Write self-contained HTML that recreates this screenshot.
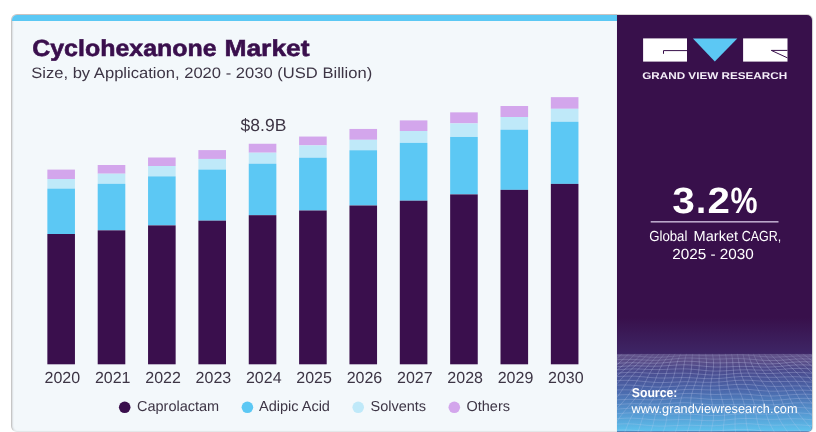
<!DOCTYPE html>
<html><head><meta charset="utf-8">
<style>
html,body{margin:0;padding:0;background:#fff;}
body{width:816px;height:432px;overflow:hidden;position:relative;font-family:"Liberation Sans",sans-serif;}
.card{position:absolute;left:11px;top:14px;width:606px;height:415.6px;background:#f3f8fb;border-radius:6px 0 0 6px;border-left:1px solid #c6c6c6;border-top:1px solid #cbc3c0;border-bottom:1px solid #e4e7e9;box-shadow:inset 1.5px 0 1.5px -0.5px rgba(0,0,0,0.10);overflow:hidden;}
.card .band{position:absolute;left:0;top:0;right:0;height:5.6px;background:#5bc8f4;}
.rp{position:absolute;left:617px;top:15px;width:195px;height:416.8px;background:linear-gradient(180deg,#38104b 0px,#38104b 302.5px,#3e2666 339px);border-radius:0 5px 5px 0;overflow:hidden;box-shadow:0 -1px 0 #d8d4d4, 0.5px 0 1px rgba(0,0,0,0.2);}
svg text{font-family:"Liberation Sans",sans-serif;text-rendering:geometricPrecision;}
</style></head><body>
<div class="card"><div class="band"></div></div>
<div class="rp"></div>
<svg style="position:absolute;left:0;top:0;will-change:transform" width="816" height="432" viewBox="0 0 816 432">
<defs>
<linearGradient id="bg" x1="0" y1="0" x2="0" y2="1">
<stop offset="0" stop-color="#615289"/>
<stop offset="0.1" stop-color="#5a4e88"/>
<stop offset="0.2" stop-color="#4b4a8c"/>
<stop offset="0.45" stop-color="#4a64a8"/>
<stop offset="0.75" stop-color="#5596d0"/>
<stop offset="1" stop-color="#5ec3ee"/>
</linearGradient>
<filter id="bl" x="-5%" y="-5%" width="110%" height="110%"><feGaussianBlur stdDeviation="0.45"/></filter>
<linearGradient id="fade" x1="0" y1="0" x2="0" y2="1"><stop offset="0" stop-color="#fff" stop-opacity="0.35"/><stop offset="0.12" stop-color="#fff" stop-opacity="1"/><stop offset="1" stop-color="#fff" stop-opacity="0.8"/></linearGradient>
<mask id="mk" maskUnits="userSpaceOnUse" x="617" y="353" width="196" height="80"><rect x="617" y="353" width="196" height="80" fill="url(#fade)"/></mask>
<clipPath id="rpc"><path d="M617,353.8 H812 V426.8 Q812,431.8 807,431.8 H617 Z"/></clipPath>
</defs>
<rect x="47.35" y="169.6" width="27.6" height="9.40" fill="#d3a6ec"/><rect x="47.35" y="179.0" width="27.6" height="9.60" fill="#bfe9f9"/><rect x="47.35" y="188.6" width="27.6" height="45.40" fill="#5cc8f4"/><rect x="47.35" y="234.0" width="27.6" height="130.30" fill="#3a0f4d"/><rect x="97.70" y="165.0" width="27.6" height="8.70" fill="#d3a6ec"/><rect x="97.70" y="173.7" width="27.6" height="10.10" fill="#bfe9f9"/><rect x="97.70" y="183.8" width="27.6" height="46.55" fill="#5cc8f4"/><rect x="97.70" y="230.35" width="27.6" height="133.95" fill="#3a0f4d"/><rect x="148.05" y="157.5" width="27.6" height="8.50" fill="#d3a6ec"/><rect x="148.05" y="166.0" width="27.6" height="10.35" fill="#bfe9f9"/><rect x="148.05" y="176.35" width="27.6" height="49.05" fill="#5cc8f4"/><rect x="148.05" y="225.4" width="27.6" height="138.90" fill="#3a0f4d"/><rect x="198.40" y="150.1" width="27.6" height="8.85" fill="#d3a6ec"/><rect x="198.40" y="158.95" width="27.6" height="10.60" fill="#bfe9f9"/><rect x="198.40" y="169.55" width="27.6" height="51.10" fill="#5cc8f4"/><rect x="198.40" y="220.65" width="27.6" height="143.65" fill="#3a0f4d"/><rect x="248.75" y="143.75" width="27.6" height="8.95" fill="#d3a6ec"/><rect x="248.75" y="152.7" width="27.6" height="11.00" fill="#bfe9f9"/><rect x="248.75" y="163.7" width="27.6" height="51.50" fill="#5cc8f4"/><rect x="248.75" y="215.2" width="27.6" height="149.10" fill="#3a0f4d"/><rect x="299.10" y="136.55" width="27.6" height="8.85" fill="#d3a6ec"/><rect x="299.10" y="145.4" width="27.6" height="12.30" fill="#bfe9f9"/><rect x="299.10" y="157.7" width="27.6" height="52.80" fill="#5cc8f4"/><rect x="299.10" y="210.5" width="27.6" height="153.80" fill="#3a0f4d"/><rect x="349.45" y="128.95" width="27.6" height="10.85" fill="#d3a6ec"/><rect x="349.45" y="139.8" width="27.6" height="10.45" fill="#bfe9f9"/><rect x="349.45" y="150.25" width="27.6" height="55.25" fill="#5cc8f4"/><rect x="349.45" y="205.5" width="27.6" height="158.80" fill="#3a0f4d"/><rect x="399.80" y="120.4" width="27.6" height="10.60" fill="#d3a6ec"/><rect x="399.80" y="131.0" width="27.6" height="11.85" fill="#bfe9f9"/><rect x="399.80" y="142.85" width="27.6" height="57.85" fill="#5cc8f4"/><rect x="399.80" y="200.7" width="27.6" height="163.60" fill="#3a0f4d"/><rect x="450.15" y="112.35" width="27.6" height="11.05" fill="#d3a6ec"/><rect x="450.15" y="123.4" width="27.6" height="13.55" fill="#bfe9f9"/><rect x="450.15" y="136.95" width="27.6" height="57.45" fill="#5cc8f4"/><rect x="450.15" y="194.4" width="27.6" height="169.90" fill="#3a0f4d"/><rect x="500.50" y="106.0" width="27.6" height="11.00" fill="#d3a6ec"/><rect x="500.50" y="117.0" width="27.6" height="12.70" fill="#bfe9f9"/><rect x="500.50" y="129.7" width="27.6" height="60.15" fill="#5cc8f4"/><rect x="500.50" y="189.85" width="27.6" height="174.45" fill="#3a0f4d"/><rect x="550.85" y="97.15" width="27.6" height="11.65" fill="#d3a6ec"/><rect x="550.85" y="108.8" width="27.6" height="12.95" fill="#bfe9f9"/><rect x="550.85" y="121.75" width="27.6" height="62.15" fill="#5cc8f4"/><rect x="550.85" y="183.9" width="27.6" height="180.40" fill="#3a0f4d"/>
<g font-size="16" fill="#3d3545" text-anchor="middle"><text x="62.35" y="382.6">2020</text><text x="112.70" y="382.6">2021</text><text x="163.05" y="382.6">2022</text><text x="213.40" y="382.6">2023</text><text x="263.75" y="382.6">2024</text><text x="314.10" y="382.6">2025</text><text x="364.45" y="382.6">2026</text><text x="414.80" y="382.6">2027</text><text x="465.15" y="382.6">2028</text><text x="515.50" y="382.6">2029</text><text x="565.85" y="382.6">2030</text></g>
<text x="240.6" y="131" font-size="17.5" fill="#3d3545">$8.9B</text>
<g font-size="14.5" fill="#3d3545">
<circle cx="124.7" cy="407.3" r="5.8" fill="#3a0f4d"/><text x="137" y="411">Caprolactam</text>
<circle cx="247.4" cy="407.3" r="5.8" fill="#5cc8f4"/><text x="259" y="411">Adipic Acid</text>
<circle cx="358.2" cy="407.3" r="5.8" fill="#bfe9f9"/><text x="370.5" y="411">Solvents</text>
<circle cx="454.3" cy="407.3" r="5.8" fill="#d3a6ec"/><text x="466.5" y="411">Others</text>
</g>
<g font-size="23.2" font-weight="bold" fill="#3a0f4d" stroke="#3a0f4d" stroke-width="0.6"><text x="32.2" y="56.3" textLength="184.5" lengthAdjust="spacingAndGlyphs">Cyclohexanone</text><text x="224.4" y="56.3" textLength="85.2" lengthAdjust="spacingAndGlyphs">Market</text></g>
<text x="31.2" y="77.7" font-size="15.2" fill="#3d3545" textLength="341" lengthAdjust="spacingAndGlyphs">Size, by Application, 2020 - 2030 (USD Billion)</text>
<!-- logo -->
<rect x="643.1" y="38.4" width="43.9" height="23.2" fill="#fff"/>
<path d="M663.5,53.8 V50.6 H687" fill="none" stroke="#38104b" stroke-width="1"/>
<path d="M692.9,38.4 H737.3 L714.8,61.5 Z" fill="#5cc8f4"/>
<rect x="743.1" y="38.4" width="44.4" height="23.2" fill="#fff"/>
<path d="M787.5,50.4 H771.3 L787.5,57.9" fill="none" stroke="#38104b" stroke-width="1"/>
<text x="642.2" y="79" font-size="9.8" font-weight="bold" fill="#f4eef8" textLength="145" lengthAdjust="spacingAndGlyphs">GRAND VIEW RESEARCH</text>
<!-- CAGR -->
<g font-size="36.5" font-weight="bold" fill="#fff">
<text x="672.3" y="212.8" textLength="22.6" lengthAdjust="spacingAndGlyphs">3</text>
<text x="695.9" y="212.8">.</text>
<text x="707.4" y="212.8" textLength="22.4" lengthAdjust="spacingAndGlyphs">2</text>
<text x="730.4" y="212.8" textLength="27" lengthAdjust="spacingAndGlyphs">%</text>
</g>
<rect x="650.7" y="221" width="127.8" height="1.6" fill="#b9a6c9"/>
<g font-size="14.6" fill="#fff"><text x="649.2" y="241.2" textLength="38.2" lengthAdjust="spacingAndGlyphs">Global</text><text x="693.6" y="241.2" textLength="44.5" lengthAdjust="spacingAndGlyphs">Market</text><text x="741.8" y="241.2" textLength="39.5" lengthAdjust="spacingAndGlyphs">CAGR,</text></g>
<text x="672.3" y="259.2" font-size="14.6" fill="#fff" textLength="81.5" lengthAdjust="spacingAndGlyphs">2025 - 2030</text>
<!-- bottom -->
<g clip-path="url(#rpc)">
<rect x="617" y="353.8" width="196" height="78" fill="url(#bg)"/>
<g fill="none" stroke="#c8d0f0" stroke-opacity="0.28" stroke-width="1" filter="url(#bl)" mask="url(#mk)"><polyline points="615,355.8 620,355.7 625,355.7 630,355.7 635,356.0 640,356.4 645,356.8 650,357.1 655,357.3 660,357.2 665,357.0 670,356.5 675,356.1 680,355.6 685,355.3 690,355.2 695,355.3 700,355.4 705,355.6 710,355.7 715,355.7 720,355.6 725,355.3 730,355.1 735,354.9 740,354.8 745,355.0 750,355.3 755,355.8 760,356.3 765,356.7 770,357.0 775,357.1 780,356.9 785,356.7 790,356.4 795,356.1 800,356.0 805,356.0 810,356.2 815,356.4"/><polyline points="615,359.7 620,359.5 625,359.4 630,359.4 635,359.5 640,359.8 645,360.0 650,360.2 655,360.3 660,360.1 665,359.8 670,359.3 675,358.8 680,358.4 685,358.1 690,358.0 695,358.2 700,358.4 705,358.7 710,359.0 715,359.1 720,359.0 725,358.9 730,358.7 735,358.6 740,358.6 745,358.8 750,359.2 755,359.6 760,360.1 765,360.4 770,360.6 775,360.5 780,360.3 785,359.9 790,359.5 795,359.1 800,358.9 805,358.9 810,359.0 815,359.1"/><polyline points="615,363.4 620,363.1 625,362.9 630,362.7 635,362.8 640,362.9 645,363.1 650,363.2 655,363.2 660,363.0 665,362.7 670,362.2 675,361.8 680,361.4 685,361.2 690,361.3 695,361.5 700,361.9 705,362.3 710,362.7 715,362.9 720,362.9 725,362.8 730,362.7 735,362.6 740,362.5 745,362.7 750,362.9 755,363.3 760,363.6 765,363.9 770,363.9 775,363.7 780,363.4 785,362.9 790,362.4 795,362.0 800,361.8 805,361.7 810,361.9 815,362.1"/><polyline points="615,366.9 620,366.5 625,366.1 630,365.9 635,365.8 640,365.9 645,366.1 650,366.2 655,366.2 660,366.1 665,365.8 670,365.5 675,365.1 680,364.9 685,364.8 690,365.0 695,365.3 700,365.8 705,366.3 710,366.7 715,367.0 720,367.0 725,366.9 730,366.7 735,366.5 740,366.4 745,366.4 750,366.5 755,366.7 760,367.0 765,367.1 770,367.0 775,366.8 780,366.4 785,365.9 790,365.4 795,365.0 800,364.9 805,364.9 810,365.1 815,365.5"/><polyline points="615,370.1 620,369.7 625,369.2 630,369.0 635,368.9 640,369.1 645,369.3 650,369.5 655,369.6 660,369.6 665,369.4 670,369.2 675,369.0 680,368.9 685,368.9 690,369.1 695,369.5 700,370.0 705,370.5 710,370.9 715,371.1 720,371.0 725,370.8 730,370.5 735,370.1 740,369.9 745,369.8 750,369.8 755,370.0 760,370.1 765,370.2 770,370.1 775,369.9 780,369.5 785,369.1 790,368.7 795,368.5 800,368.4 805,368.6 810,368.9 815,369.4"/><polyline points="615,373.4 620,372.9 625,372.5 630,372.3 635,372.4 640,372.6 645,372.9 650,373.2 655,373.5 660,373.6 665,373.5 670,373.4 675,373.2 680,373.2 685,373.2 690,373.4 695,373.8 700,374.2 705,374.6 710,374.9 715,375.0 720,374.8 725,374.5 730,374.0 735,373.6 740,373.3 745,373.1 750,373.1 755,373.2 760,373.4 765,373.5 770,373.5 775,373.3 780,373.1 785,372.8 790,372.5 795,372.4 800,372.4 805,372.7 810,373.1 815,373.7"/><polyline points="615,376.8 620,376.4 625,376.2 630,376.1 635,376.2 640,376.6 645,377.0 650,377.5 655,377.8 660,378.0 665,378.0 670,377.9 675,377.7 680,377.6 685,377.6 690,377.7 695,378.0 700,378.3 705,378.6 710,378.7 715,378.6 720,378.4 725,378.0 730,377.4 735,377.0 740,376.6 745,376.5 750,376.5 755,376.7 760,377.0 765,377.2 770,377.3 775,377.3 780,377.1 785,376.9 790,376.8 795,376.7 800,376.9 805,377.2 810,377.6 815,378.1"/><polyline points="615,380.8 620,380.5 625,380.3 630,380.4 635,380.6 640,381.1 645,381.6 650,382.0 655,382.4 660,382.6 665,382.5 670,382.3 675,382.1 680,381.9 685,381.7 690,381.8 695,381.9 700,382.1 705,382.3 710,382.3 715,382.2 720,381.9 725,381.5 730,381.0 735,380.5 740,380.3 745,380.2 750,380.3 755,380.7 760,381.0 765,381.4 770,381.6 775,381.7 780,381.6 785,381.5 790,381.4 795,381.3 800,381.4 805,381.7 810,382.1 815,382.4"/><polyline points="615,385.2 620,385.0 625,385.0 630,385.1 635,385.4 640,385.8 645,386.3 650,386.7 655,387.0 660,387.1 665,386.9 670,386.6 675,386.3 680,385.9 685,385.7 690,385.6 695,385.6 700,385.8 705,385.9 710,386.0 715,385.9 720,385.6 725,385.2 730,384.9 735,384.5 740,384.4 745,384.4 750,384.7 755,385.1 760,385.6 765,386.0 770,386.3 775,386.4 780,386.4 785,386.2 790,386.0 795,385.9 800,385.9 805,386.1 810,386.3 815,386.6"/><polyline points="615,390.0 620,389.9 625,389.8 630,389.9 635,390.2 640,390.6 645,391.0 650,391.3 655,391.4 660,391.4 665,391.1 670,390.7 675,390.2 680,389.8 685,389.5 690,389.4 695,389.4 700,389.6 705,389.8 710,389.9 715,389.9 720,389.8 725,389.5 730,389.2 735,389.0 740,389.0 745,389.2 750,389.5 755,390.0 760,390.5 765,390.9 770,391.2 775,391.2 780,391.1 785,390.9 790,390.6 795,390.3 800,390.2 805,390.2 810,390.4 815,390.5"/><polyline points="615,395.1 620,394.9 625,394.7 630,394.7 635,394.9 640,395.1 645,395.4 650,395.6 655,395.7 660,395.5 665,395.2 670,394.7 675,394.2 680,393.8 685,393.5 690,393.4 695,393.5 700,393.8 705,394.1 710,394.3 715,394.5 720,394.4 725,394.3 730,394.1 735,394.0 740,394.0 745,394.2 750,394.5 755,395.0 760,395.4 765,395.8 770,396.0 775,395.9 780,395.6 785,395.3 790,394.8 795,394.5 800,394.3 805,394.2 810,394.3 815,394.5"/><polyline points="615,400.0 620,399.7 625,399.5 630,399.3 635,399.4 640,399.5 645,399.7 650,399.8 655,399.8 660,399.6 665,399.3 670,398.8 675,398.4 680,398.0 685,397.8 690,397.9 695,398.1 700,398.5 705,398.9 710,399.3 715,399.5 720,399.6 725,399.5 730,399.3 735,399.2 740,399.2 745,399.3 750,399.6 755,399.9 760,400.2 765,400.5 770,400.5 775,400.3 780,400.0 785,399.5 790,399.0 795,398.6 800,398.4 805,398.3 810,398.5 815,398.7"/><polyline points="615,404.8 620,404.3 625,404.0 630,403.8 635,403.7 640,403.8 645,403.9 650,404.1 655,404.1 660,404.0 665,403.7 670,403.4 675,403.0 680,402.8 685,402.7 690,402.9 695,403.3 700,403.7 705,404.2 710,404.6 715,404.9 720,404.9 725,404.8 730,404.6 735,404.4 740,404.2 745,404.3 750,404.4 755,404.6 760,404.8 765,405.0 770,404.9 775,404.7 780,404.3 785,403.8 790,403.3 795,402.9 800,402.8 805,402.8 810,403.0 815,403.4"/><polyline points="615,409.4 620,408.9 625,408.5 630,408.2 635,408.2 640,408.3 645,408.5 650,408.7 655,408.8 660,408.8 665,408.7 670,408.4 675,408.2 680,408.1 685,408.1 690,408.4 695,408.8 700,409.3 705,409.7 710,410.1 715,410.3 720,410.2 725,410.0 730,409.7 735,409.4 740,409.1 745,409.0 750,409.0 755,409.2 760,409.3 765,409.4 770,409.3 775,409.1 780,408.7 785,408.3 790,407.9 795,407.7 800,407.6 805,407.8 810,408.2 815,408.6"/><polyline points="615,414.0 620,413.5 625,413.1 630,412.9 635,412.9 640,413.2 645,413.5 650,413.8 655,414.1 660,414.2 665,414.1 670,414.0 675,413.9 680,413.8 685,413.8 690,414.1 695,414.4 700,414.8 705,415.2 710,415.5 715,415.6 720,415.4 725,415.1 730,414.6 735,414.2 740,413.8 745,413.7 750,413.7 755,413.8 760,414.0 765,414.1 770,414.1 775,413.9 780,413.7 785,413.4 790,413.1 795,413.0 800,413.0 805,413.3 810,413.8 815,414.3"/><polyline points="615,418.9 620,418.5 625,418.2 630,418.1 635,418.3 640,418.6 645,419.0 650,419.5 655,419.8 660,420.0 665,420.0 670,419.9 675,419.7 680,419.6 685,419.6 690,419.7 695,420.0 700,420.3 705,420.6 710,420.7 715,420.7 720,420.4 725,420.0 730,419.5 735,419.0 740,418.6 745,418.5 750,418.5 755,418.7 760,419.0 765,419.2 770,419.3 775,419.3 780,419.2 785,419.0 790,418.8 795,418.8 800,418.9 805,419.2 810,419.6 815,420.1"/><polyline points="615,424.2 620,424.0 625,423.8 630,423.9 635,424.1 640,424.6 645,425.1 650,425.5 655,425.9 660,426.1 665,426.0 670,425.8 675,425.6 680,425.4 685,425.2 690,425.2 695,425.4 700,425.6 705,425.7 710,425.8 715,425.7 720,425.4 725,424.9 730,424.4 735,424.0 740,423.7 745,423.7 750,423.8 755,424.1 760,424.5 765,424.9 770,425.1 775,425.2 780,425.1 785,425.0 790,424.9 795,424.8 800,424.9 805,425.2 810,425.5 815,425.9"/><polyline points="615,430.2 620,430.0 625,430.0 630,430.1 635,430.4 640,430.8 645,431.3 650,431.7 655,432.0 660,432.1 665,432.0 670,431.6 675,431.3 680,430.9 685,430.7 690,430.6 695,430.6 700,430.8 705,430.9 710,431.0 715,430.9 720,430.6 725,430.2 730,429.9 735,429.5 740,429.4 745,429.4 750,429.7 755,430.1 760,430.6 765,431.1 770,431.3 775,431.5 780,431.4 785,431.2 790,431.1 795,430.9 800,430.9 805,431.1 810,431.3 815,431.6"/><polyline points="536.0,352.0 526.5,356.0 517.1,360.0 507.8,364.0 498.2,368.0 488.2,372.0 477.9,376.0 467.2,380.0 456.3,384.0 445.4,388.0 434.7,392.0 424.2,396.0 414.2,400.0 404.5,404.0 395.1,408.0 385.8,412.0 376.3,416.0 366.6,420.0 356.5,424.0 346.0,428.0 335.2,432.0"/><polyline points="542.4,352.0 533.3,356.0 524.3,360.0 515.1,364.0 505.5,368.0 495.6,372.0 485.2,376.0 474.7,380.0 464.1,384.0 453.7,388.0 443.6,392.0 433.9,396.0 424.5,400.0 415.4,404.0 406.4,408.0 397.3,412.0 387.9,416.0 378.2,420.0 368.1,424.0 357.6,428.0 347.1,432.0"/><polyline points="548.9,352.0 540.2,356.0 531.3,360.0 522.1,364.0 512.6,368.0 502.6,372.0 492.4,376.0 482.2,380.0 472.1,384.0 462.3,388.0 452.8,392.0 443.8,396.0 435.0,400.0 426.3,404.0 417.6,408.0 408.6,412.0 399.2,416.0 389.5,420.0 379.4,424.0 369.2,428.0 359.0,432.0"/><polyline points="555.4,352.0 546.9,356.0 538.1,360.0 528.9,364.0 519.3,368.0 509.5,372.0 499.6,376.0 489.8,380.0 480.3,384.0 471.1,388.0 462.4,392.0 453.9,396.0 445.6,400.0 437.2,404.0 428.6,408.0 419.6,412.0 410.2,416.0 400.5,420.0 390.6,424.0 380.7,428.0 371.0,432.0"/><polyline points="561.8,352.0 553.4,356.0 544.5,360.0 535.3,364.0 525.8,368.0 516.3,372.0 506.8,376.0 497.6,380.0 488.7,384.0 480.3,388.0 472.1,392.0 464.1,396.0 456.1,400.0 447.9,404.0 439.2,408.0 430.3,412.0 420.9,416.0 411.4,420.0 401.8,424.0 392.4,428.0 383.4,432.0"/><polyline points="567.9,352.0 559.5,356.0 550.7,360.0 541.5,364.0 532.3,368.0 523.2,372.0 514.2,376.0 505.7,380.0 497.6,384.0 489.7,388.0 482.0,392.0 474.4,396.0 466.5,400.0 458.2,404.0 449.6,408.0 440.7,412.0 431.5,416.0 422.2,420.0 413.2,424.0 404.4,428.0 396.0,432.0"/><polyline points="573.8,352.0 565.3,356.0 556.6,360.0 547.7,364.0 538.8,368.0 530.2,372.0 522.0,376.0 514.1,380.0 506.6,384.0 499.3,388.0 491.9,392.0 484.4,396.0 476.6,400.0 468.3,404.0 459.7,408.0 450.9,412.0 442.0,416.0 433.2,420.0 424.8,424.0 416.7,428.0 409.0,432.0"/><polyline points="579.3,352.0 570.9,356.0 562.4,360.0 553.8,364.0 545.5,368.0 537.6,372.0 530.0,376.0 522.8,380.0 515.8,384.0 508.8,388.0 501.7,392.0 494.2,396.0 486.3,400.0 478.1,404.0 469.6,408.0 461.1,412.0 452.6,416.0 444.5,420.0 436.7,424.0 429.3,428.0 422.2,432.0"/><polyline points="584.6,352.0 576.4,356.0 568.2,360.0 560.2,364.0 552.5,368.0 545.3,372.0 538.4,376.0 531.7,380.0 525.1,384.0 518.3,388.0 511.1,392.0 503.7,396.0 495.8,400.0 487.7,404.0 479.4,408.0 471.3,412.0 463.5,416.0 456.0,420.0 448.9,424.0 442.1,428.0 435.5,432.0"/><polyline points="589.7,352.0 581.8,356.0 574.2,360.0 566.8,364.0 559.9,368.0 553.3,372.0 546.9,376.0 540.6,380.0 534.2,384.0 527.4,388.0 520.3,392.0 512.8,396.0 505.0,400.0 497.2,404.0 489.4,408.0 481.8,412.0 474.6,416.0 467.9,420.0 461.4,424.0 455.1,428.0 448.7,432.0"/><polyline points="594.8,352.0 587.5,356.0 580.4,360.0 573.8,364.0 567.5,368.0 561.4,372.0 555.5,376.0 549.4,380.0 543.0,384.0 536.3,388.0 529.2,392.0 521.8,396.0 514.2,400.0 506.7,404.0 499.5,408.0 492.6,412.0 486.1,416.0 480.0,420.0 474.0,424.0 468.0,428.0 461.8,432.0"/><polyline points="600.1,352.0 593.3,356.0 587.0,360.0 581.0,364.0 575.3,368.0 569.7,372.0 563.9,376.0 557.9,380.0 551.6,384.0 544.8,388.0 537.8,392.0 530.6,396.0 523.4,400.0 516.5,404.0 509.9,408.0 503.7,412.0 497.9,416.0 492.2,420.0 486.6,424.0 480.8,428.0 474.6,432.0"/><polyline points="605.6,352.0 599.5,356.0 593.9,360.0 588.5,364.0 583.2,368.0 577.8,372.0 572.2,376.0 566.2,380.0 559.8,384.0 553.1,388.0 546.3,392.0 539.4,396.0 532.8,400.0 526.5,404.0 520.7,408.0 515.1,412.0 509.8,416.0 504.5,420.0 499.0,424.0 493.3,428.0 487.1,432.0"/><polyline points="611.4,352.0 606.0,356.0 601.0,360.0 596.0,364.0 591.0,368.0 585.7,372.0 580.1,376.0 574.1,380.0 567.8,384.0 561.3,388.0 554.8,392.0 548.5,396.0 542.5,400.0 536.9,404.0 531.7,408.0 526.7,412.0 521.7,416.0 516.6,420.0 511.2,424.0 505.4,428.0 499.3,432.0"/><polyline points="617.6,352.0 612.8,356.0 608.2,360.0 603.5,364.0 598.6,368.0 593.4,372.0 587.8,376.0 581.8,380.0 575.6,384.0 569.5,388.0 563.5,392.0 557.8,396.0 552.5,400.0 547.6,404.0 542.9,408.0 538.3,412.0 533.5,416.0 528.5,420.0 523.1,424.0 517.3,428.0 511.3,432.0"/><polyline points="623.9,352.0 619.6,356.0 615.3,360.0 610.8,364.0 606.0,368.0 600.7,372.0 595.1,376.0 589.3,380.0 583.5,384.0 577.8,388.0 572.4,392.0 567.4,396.0 562.8,400.0 558.4,404.0 554.1,408.0 549.8,412.0 545.1,416.0 540.1,420.0 534.7,424.0 529.0,428.0 523.1,432.0"/><polyline points="630.5,352.0 626.5,356.0 622.3,360.0 617.9,364.0 613.0,368.0 607.8,372.0 602.3,376.0 596.8,380.0 591.4,384.0 586.3,388.0 581.6,392.0 577.3,396.0 573.3,400.0 569.3,404.0 565.3,408.0 561.0,412.0 556.4,416.0 551.4,420.0 546.0,424.0 540.5,428.0 535.0,432.0"/><polyline points="637.0,352.0 633.2,356.0 629.1,360.0 624.6,364.0 619.7,368.0 614.6,372.0 609.5,376.0 604.4,380.0 599.6,384.0 595.2,388.0 591.2,392.0 587.5,396.0 583.9,400.0 580.2,404.0 576.3,408.0 572.0,412.0 567.4,416.0 562.4,420.0 557.2,424.0 552.1,428.0 547.1,432.0"/><polyline points="643.4,352.0 639.6,356.0 635.5,360.0 631.0,364.0 626.3,368.0 621.4,372.0 616.7,376.0 612.2,380.0 608.1,384.0 604.4,388.0 601.0,392.0 597.7,396.0 594.4,400.0 590.9,404.0 587.0,408.0 582.7,412.0 578.1,416.0 573.3,420.0 568.4,424.0 563.8,428.0 559.5,432.0"/><polyline points="649.5,352.0 645.8,356.0 641.6,360.0 637.2,364.0 632.7,368.0 628.3,372.0 624.1,376.0 620.3,380.0 616.9,384.0 613.8,388.0 610.9,392.0 607.9,396.0 604.8,400.0 601.2,404.0 597.3,408.0 593.1,412.0 588.6,416.0 584.1,420.0 579.8,424.0 575.8,428.0 572.1,432.0"/><polyline points="655.3,352.0 651.6,356.0 647.5,360.0 643.4,364.0 639.3,368.0 635.4,372.0 631.9,376.0 628.8,380.0 626.0,384.0 623.4,388.0 620.8,392.0 618.0,396.0 614.8,400.0 611.3,404.0 607.4,408.0 603.3,412.0 599.1,416.0 595.1,420.0 591.4,424.0 588.1,428.0 585.1,432.0"/><polyline points="660.8,352.0 657.1,356.0 653.3,360.0 649.5,364.0 646.0,368.0 642.8,372.0 640.0,376.0 637.5,380.0 635.2,384.0 632.9,388.0 630.5,392.0 627.7,396.0 624.6,400.0 621.1,404.0 617.3,408.0 613.5,412.0 609.8,416.0 606.4,420.0 603.3,424.0 600.7,428.0 598.3,432.0"/><polyline points="666.1,352.0 662.6,356.0 659.2,360.0 655.9,364.0 653.0,368.0 650.5,372.0 648.3,376.0 646.4,380.0 644.4,384.0 642.4,388.0 640.0,392.0 637.2,396.0 634.0,400.0 630.6,404.0 627.1,408.0 623.8,412.0 620.7,416.0 617.9,420.0 615.6,424.0 613.5,428.0 611.6,432.0"/><polyline points="671.2,352.0 668.1,356.0 665.1,360.0 662.5,364.0 660.3,368.0 658.5,372.0 656.8,376.0 655.3,380.0 653.5,384.0 651.5,388.0 649.1,392.0 646.3,396.0 643.3,400.0 640.1,404.0 637.1,408.0 634.3,412.0 631.8,416.0 629.8,420.0 628.0,424.0 626.5,428.0 624.8,432.0"/><polyline points="676.3,352.0 673.7,356.0 671.4,360.0 669.5,364.0 667.9,368.0 666.6,372.0 665.4,376.0 664.0,380.0 662.4,384.0 660.4,388.0 658.0,392.0 655.3,396.0 652.5,400.0 649.7,404.0 647.2,408.0 645.1,412.0 643.3,416.0 641.9,420.0 640.6,424.0 639.4,428.0 637.9,432.0"/><polyline points="681.6,352.0 679.6,356.0 678.0,360.0 676.7,364.0 675.8,368.0 674.9,372.0 673.9,376.0 672.6,380.0 670.9,384.0 668.9,388.0 666.6,392.0 664.1,396.0 661.7,400.0 659.5,404.0 657.6,408.0 656.2,412.0 655.1,416.0 654.2,420.0 653.2,424.0 652.1,428.0 650.7,432.0"/><polyline points="687.1,352.0 685.8,356.0 684.9,360.0 684.2,364.0 683.6,368.0 683.0,372.0 682.1,376.0 680.8,380.0 679.2,384.0 677.2,388.0 675.1,392.0 673.0,396.0 671.1,400.0 669.5,404.0 668.4,408.0 667.6,412.0 667.0,416.0 666.4,420.0 665.7,424.0 664.6,428.0 663.2,432.0"/><polyline points="693.0,352.0 692.3,356.0 692.0,360.0 691.8,364.0 691.5,368.0 690.9,372.0 690.0,376.0 688.8,380.0 687.2,384.0 685.4,388.0 683.6,392.0 682.0,396.0 680.8,400.0 679.9,404.0 679.4,408.0 679.1,412.0 678.9,416.0 678.5,420.0 677.9,424.0 676.8,428.0 675.4,432.0"/><polyline points="699.1,352.0 699.1,356.0 699.2,360.0 699.3,364.0 699.1,368.0 698.6,372.0 697.7,376.0 696.4,380.0 695.0,384.0 693.5,388.0 692.3,392.0 691.3,396.0 690.8,400.0 690.6,404.0 690.6,408.0 690.7,412.0 690.7,416.0 690.4,420.0 689.7,424.0 688.7,428.0 687.3,432.0"/><polyline points="705.5,352.0 705.9,356.0 706.4,360.0 706.6,364.0 706.4,368.0 705.9,372.0 705.0,376.0 703.9,380.0 702.8,384.0 701.9,388.0 701.2,392.0 701.0,396.0 701.1,400.0 701.4,404.0 701.9,408.0 702.2,412.0 702.3,416.0 702.0,420.0 701.3,424.0 700.3,428.0 699.2,432.0"/><polyline points="712.0,352.0 712.8,356.0 713.4,360.0 713.6,364.0 713.4,368.0 712.9,372.0 712.2,376.0 711.4,380.0 710.8,384.0 710.4,388.0 710.5,392.0 710.9,396.0 711.6,400.0 712.4,404.0 713.1,408.0 713.5,412.0 713.6,416.0 713.3,420.0 712.6,424.0 711.9,428.0 711.1,432.0"/><polyline points="718.5,352.0 719.5,356.0 720.1,360.0 720.3,364.0 720.2,368.0 719.8,372.0 719.3,376.0 719.0,380.0 719.0,384.0 719.3,388.0 720.0,392.0 721.0,396.0 722.2,400.0 723.2,404.0 724.0,408.0 724.5,412.0 724.5,416.0 724.3,420.0 723.8,424.0 723.4,428.0 723.2,432.0"/><polyline points="724.9,352.0 725.9,356.0 726.5,360.0 726.7,364.0 726.7,368.0 726.6,372.0 726.6,376.0 726.8,380.0 727.5,384.0 728.5,388.0 729.8,392.0 731.3,396.0 732.7,400.0 733.9,404.0 734.7,408.0 735.1,412.0 735.2,416.0 735.1,420.0 735.0,424.0 735.1,428.0 735.6,432.0"/><polyline points="731.0,352.0 732.0,356.0 732.6,360.0 732.9,364.0 733.2,368.0 733.5,372.0 734.0,376.0 735.0,380.0 736.3,384.0 737.9,388.0 739.7,392.0 741.5,396.0 743.0,400.0 744.2,404.0 745.0,408.0 745.5,412.0 745.8,416.0 746.0,420.0 746.4,424.0 747.1,428.0 748.2,432.0"/><polyline points="736.9,352.0 737.8,356.0 738.5,360.0 739.1,364.0 739.7,368.0 740.6,372.0 741.8,376.0 743.4,380.0 745.4,384.0 747.5,388.0 749.6,392.0 751.5,396.0 753.1,400.0 754.3,404.0 755.1,408.0 755.7,412.0 756.3,416.0 757.0,420.0 758.0,424.0 759.4,428.0 761.2,432.0"/><polyline points="742.4,352.0 743.4,356.0 744.3,360.0 745.3,364.0 746.4,368.0 748.0,372.0 749.9,376.0 752.2,380.0 754.6,384.0 757.1,388.0 759.3,392.0 761.3,396.0 762.8,400.0 764.0,404.0 765.0,408.0 765.9,412.0 766.9,416.0 768.3,420.0 770.0,424.0 772.1,428.0 774.4,432.0"/><polyline points="747.6,352.0 748.9,356.0 750.1,360.0 751.6,364.0 753.5,368.0 755.7,372.0 758.2,376.0 761.0,380.0 763.8,384.0 766.5,388.0 768.8,392.0 770.7,396.0 772.3,400.0 773.6,404.0 774.8,408.0 776.2,412.0 777.8,416.0 779.8,420.0 782.2,424.0 784.9,428.0 787.7,432.0"/><polyline points="752.7,352.0 754.3,356.0 756.1,360.0 758.3,364.0 760.8,368.0 763.7,372.0 766.8,376.0 769.9,380.0 772.9,384.0 775.6,388.0 777.9,392.0 779.9,396.0 781.5,400.0 783.1,404.0 784.8,408.0 786.7,412.0 789.0,416.0 791.7,420.0 794.7,424.0 797.8,428.0 801.0,432.0"/><polyline points="757.9,352.0 760.0,356.0 762.4,360.0 765.2,364.0 768.4,368.0 771.8,372.0 775.3,376.0 778.7,380.0 781.8,384.0 784.5,388.0 786.8,392.0 788.8,396.0 790.7,400.0 792.7,404.0 794.9,408.0 797.5,412.0 800.5,416.0 803.8,420.0 807.3,424.0 810.8,428.0 814.0,432.0"/><polyline points="763.1,352.0 765.9,356.0 769.0,360.0 772.5,364.0 776.2,368.0 780.1,372.0 783.8,376.0 787.2,380.0 790.3,384.0 793.0,388.0 795.4,392.0 797.6,396.0 799.9,400.0 802.5,404.0 805.4,408.0 808.7,412.0 812.3,416.0 816.1,420.0 819.9,424.0 823.5,428.0 826.8,432.0"/><polyline points="768.7,352.0 772.1,356.0 775.9,360.0 780.0,364.0 784.1,368.0 788.2,372.0 792.0,376.0 795.5,380.0 798.5,384.0 801.3,388.0 803.9,392.0 806.5,396.0 809.3,400.0 812.5,404.0 816.1,408.0 820.1,412.0 824.2,416.0 828.3,420.0 832.3,424.0 836.0,428.0 839.3,432.0"/><polyline points="774.5,352.0 778.6,356.0 783.0,360.0 787.5,364.0 791.9,368.0 796.1,372.0 799.9,376.0 803.4,380.0 806.5,384.0 809.4,388.0 812.4,392.0 815.5,396.0 819.0,400.0 822.9,404.0 827.2,408.0 831.6,412.0 836.1,416.0 840.5,420.0 844.5,424.0 848.2,428.0 851.4,432.0"/><polyline points="780.7,352.0 785.4,356.0 790.2,360.0 795.0,364.0 799.6,368.0 803.8,372.0 807.6,376.0 811.0,380.0 814.3,384.0 817.6,388.0 821.1,392.0 824.9,396.0 829.1,400.0 833.6,404.0 838.4,408.0 843.2,412.0 847.9,416.0 852.3,420.0 856.4,424.0 860.0,428.0 863.4,432.0"/><polyline points="787.1,352.0 792.2,356.0 797.4,360.0 802.3,364.0 806.9,368.0 811.1,372.0 814.9,376.0 818.5,380.0 822.2,384.0 825.9,388.0 830.0,392.0 834.5,396.0 839.4,400.0 844.5,404.0 849.7,408.0 854.7,412.0 859.5,416.0 863.9,420.0 867.9,424.0 871.7,428.0 875.3,432.0"/><polyline points="793.6,352.0 799.1,356.0 804.4,360.0 809.3,364.0 813.9,368.0 818.1,372.0 822.1,376.0 826.0,380.0 830.1,384.0 834.5,388.0 839.3,392.0 844.5,396.0 849.9,400.0 855.4,404.0 860.8,408.0 866.0,412.0 870.8,416.0 875.2,420.0 879.2,424.0 883.2,428.0 887.2,432.0"/><polyline points="800.1,352.0 805.8,356.0 811.1,360.0 816.0,364.0 820.6,368.0 824.9,372.0 829.2,376.0 833.6,380.0 838.3,384.0 843.4,388.0 848.9,392.0 854.6,396.0 860.5,400.0 866.2,404.0 871.8,408.0 876.9,412.0 881.7,416.0 886.2,420.0 890.4,424.0 894.8,428.0 899.3,432.0"/><polyline points="806.5,352.0 812.2,356.0 817.5,360.0 822.4,364.0 827.1,368.0 831.7,372.0 836.5,376.0 841.5,380.0 846.9,384.0 852.6,388.0 858.7,392.0 864.9,396.0 871.0,400.0 876.9,404.0 882.4,408.0 887.6,412.0 892.4,416.0 897.0,420.0 901.7,424.0 906.5,428.0 911.6,432.0"/><polyline points="812.6,352.0 818.3,356.0 823.6,360.0 828.6,364.0 833.6,368.0 838.6,372.0 843.9,376.0 849.6,380.0 855.7,384.0 862.1,388.0 868.6,392.0 875.1,396.0 881.3,400.0 887.2,404.0 892.8,408.0 897.9,412.0 902.9,416.0 907.9,420.0 913.0,424.0 918.5,428.0 924.3,432.0"/><polyline points="818.4,352.0 824.1,356.0 829.5,360.0 834.8,364.0 840.1,368.0 845.7,372.0 851.7,376.0 858.1,380.0 864.8,384.0 871.6,388.0 878.5,392.0 885.1,396.0 891.4,400.0 897.3,404.0 902.8,408.0 908.2,412.0 913.5,416.0 918.9,420.0 924.7,424.0 930.8,428.0 937.3,432.0"/><polyline points="823.9,352.0 829.6,356.0 835.3,360.0 841.0,364.0 846.9,368.0 853.2,372.0 859.8,376.0 866.8,380.0 874.0,384.0 881.2,388.0 888.2,392.0 894.8,396.0 901.1,400.0 907.0,404.0 912.7,408.0 918.3,412.0 924.1,416.0 930.2,420.0 936.6,424.0 943.4,428.0 950.5,432.0"/><polyline points="829.1,352.0 835.1,356.0 841.1,360.0 847.3,364.0 853.9,368.0 860.9,372.0 868.2,376.0 875.7,380.0 883.2,384.0 890.6,388.0 897.6,392.0 904.3,396.0 910.6,400.0 916.6,404.0 922.6,408.0 928.6,412.0 935.0,416.0 941.7,420.0 948.9,424.0 956.3,428.0 963.8,432.0"/><polyline points="834.2,352.0 840.6,356.0 847.1,360.0 854.0,364.0 861.3,368.0 868.9,372.0 876.7,376.0 884.6,380.0 892.3,384.0 899.7,388.0 906.7,392.0 913.4,396.0 919.8,400.0 926.1,404.0 932.5,408.0 939.2,412.0 946.2,416.0 953.6,420.0 961.4,424.0 969.2,428.0 977.1,432.0"/><polyline points="839.4,352.0 846.2,356.0 853.4,360.0 861.0,364.0 868.9,368.0 877.0,372.0 885.3,376.0 893.3,380.0 901.1,384.0 908.5,388.0 915.6,392.0 922.3,396.0 929.0,400.0 935.7,404.0 942.6,408.0 950.0,412.0 957.7,416.0 965.8,420.0 974.0,424.0 982.1,428.0 990.1,432.0"/><polyline points="844.7,352.0 852.1,356.0 860.0,360.0 868.2,364.0 876.7,368.0 885.3,372.0 893.7,376.0 901.9,380.0 909.7,384.0 917.1,388.0 924.2,392.0 931.1,396.0 938.2,400.0 945.5,404.0 953.1,408.0 961.1,412.0 969.5,416.0 978.0,420.0 986.6,424.0 994.9,428.0 1002.9,432.0"/><polyline points="850.2,352.0 858.4,356.0 866.9,360.0 875.7,364.0 884.6,368.0 893.4,372.0 901.9,376.0 910.1,380.0 917.9,384.0 925.3,388.0 932.7,392.0 940.0,396.0 947.6,400.0 955.5,404.0 963.9,408.0 972.5,412.0 981.4,416.0 990.3,420.0 999.0,424.0 1007.4,428.0 1015.3,432.0"/><polyline points="856.1,352.0 864.9,356.0 874.0,360.0 883.3,364.0 892.4,368.0 901.3,372.0 909.9,376.0 918.0,380.0 925.8,384.0 933.5,388.0 941.2,392.0 949.1,396.0 957.3,400.0 965.9,404.0 974.9,408.0 984.1,412.0 993.3,416.0 1002.4,420.0 1011.1,424.0 1019.5,428.0 1027.5,432.0"/><polyline points="862.2,352.0 871.7,356.0 881.2,360.0 890.7,364.0 900.0,368.0 908.9,372.0 917.5,376.0 925.6,380.0 933.7,384.0 941.7,388.0 949.9,392.0 958.4,396.0 967.3,400.0 976.6,404.0 986.1,408.0 995.7,412.0 1005.1,416.0 1014.3,420.0 1023.0,424.0 1031.4,428.0 1039.5,432.0"/><polyline points="868.6,352.0 878.5,356.0 888.4,360.0 898.0,364.0 907.3,368.0 916.2,372.0 924.8,376.0 933.1,380.0 941.5,384.0 950.0,388.0 958.8,392.0 968.1,396.0 977.7,400.0 987.5,404.0 997.4,408.0 1007.2,412.0 1016.7,416.0 1025.8,420.0 1034.5,424.0 1043.0,428.0 1051.3,432.0"/><polyline points="875.2,352.0 885.4,356.0 895.4,360.0 905.1,364.0 914.3,368.0 923.3,372.0 932.0,376.0 940.6,380.0 949.5,384.0 958.6,388.0 968.1,392.0 978.0,396.0 988.2,400.0 998.4,404.0 1008.6,408.0 1018.4,412.0 1027.9,416.0 1037.0,420.0 1045.9,424.0 1054.5,428.0 1063.2,432.0"/><polyline points="881.7,352.0 892.1,356.0 902.1,360.0 911.7,364.0 921.0,368.0 930.1,372.0 939.1,376.0 948.2,380.0 957.7,384.0 967.5,388.0 977.7,392.0 988.2,396.0 998.8,400.0 1009.3,404.0 1019.5,408.0 1029.4,412.0 1038.9,416.0 1048.0,420.0 1057.1,424.0 1066.1,428.0 1075.4,432.0"/><polyline points="888.0,352.0 898.5,356.0 908.5,360.0 918.1,364.0 927.6,368.0 936.9,372.0 946.4,376.0 956.1,380.0 966.2,384.0 976.7,388.0 987.5,392.0 998.4,396.0 1009.3,400.0 1019.9,404.0 1030.2,408.0 1040.0,412.0 1049.5,416.0 1058.9,420.0 1068.3,424.0 1077.8,428.0 1087.7,432.0"/></g>
</g>
<text x="631.8" y="397" font-size="12.8" font-weight="bold" fill="#fff" textLength="45.5" lengthAdjust="spacingAndGlyphs">Source:</text>
<text x="631.6" y="412.8" font-size="12.8" fill="#fff" textLength="166" lengthAdjust="spacingAndGlyphs">www.grandviewresearch.com</text>
</svg>
</body></html>
